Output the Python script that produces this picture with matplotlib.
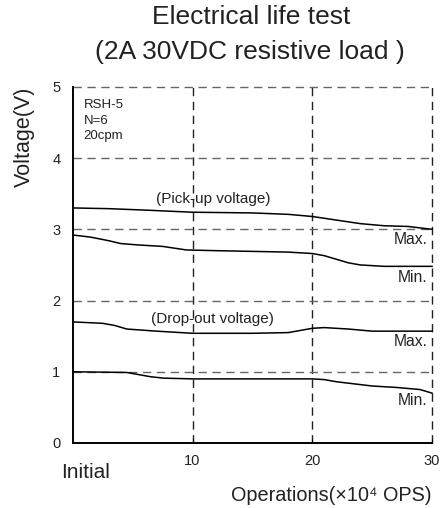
import matplotlib.pyplot as plt

plt.rcParams["font.family"] = ["Liberation Sans", "DejaVu Sans"]

# Pick-up voltage
pu_max_x = [0, 3, 6, 10, 15, 18, 20, 22, 24, 26, 28, 30]
pu_max_y = [3.30, 3.29, 3.27, 3.24, 3.23, 3.21, 3.18, 3.13, 3.08, 3.05, 3.04, 3.00]
pu_min_x = [0, 1.5, 3, 4, 5.5, 7.5, 9.5, 12, 15, 18, 20, 21, 22, 23, 24, 26, 30]
pu_min_y = [2.92, 2.89, 2.84, 2.80, 2.78, 2.76, 2.71, 2.70, 2.69, 2.68, 2.66, 2.63, 2.58, 2.53, 2.50, 2.48, 2.48]

# Drop-out voltage
do_max_x = [0, 2.5, 3.5, 4.5, 7, 10, 15, 18, 19, 20, 21, 23, 25, 30]
do_max_y = [1.70, 1.68, 1.65, 1.60, 1.57, 1.54, 1.54, 1.55, 1.58, 1.61, 1.62, 1.60, 1.57, 1.57]
do_min_x = [0, 4.5, 5.5, 6.5, 7.6, 10, 15, 20, 21, 22, 23, 25, 27, 29, 30]
do_min_y = [1.00, 0.99, 0.96, 0.93, 0.91, 0.90, 0.90, 0.90, 0.89, 0.86, 0.84, 0.80, 0.78, 0.75, 0.70]

x_ticks = [10, 20, 30]
y_ticks = [0, 1, 2, 3, 4, 5]

fig = plt.figure(figsize=(4.44, 5.08), dpi=100)
ax = fig.add_axes([0.164, 0.128, 0.809, 0.701])

for v in x_ticks:
    ax.plot([v, v], [0, 5], color="#222222", lw=1.0, dashes=(6, 4), clip_on=False, zorder=1)
for v in y_ticks[1:]:
    ax.plot([0, 30], [v, v], color="#666666", lw=1.0, dashes=(6, 4), clip_on=False, zorder=1)

for xs, ys in [(pu_max_x, pu_max_y), (pu_min_x, pu_min_y), (do_max_x, do_max_y), (do_min_x, do_min_y)]:
    ax.plot(xs, ys, color="black", lw=1.1, zorder=3, clip_on=False)

ax.set_xlim(0, 30)
ax.set_ylim(0, 5)
ax.spines["top"].set_visible(False)
ax.spines["right"].set_visible(False)
ax.spines["left"].set_linewidth(1.4)
ax.spines["bottom"].set_linewidth(1.4)

ax.set_xticks(x_ticks)
ax.set_xticklabels([str(v) for v in x_ticks], fontsize=10.5, color="#222222")
ax.set_yticks(y_ticks)
ax.set_yticklabels([str(v) for v in y_ticks], fontsize=10.5, color="#222222")
ax.tick_params(axis="x", direction="in", length=3, pad=8)
ax.tick_params(axis="y", length=0, pad=9)

ax.text(1.1, -0.41, "Initial", fontsize=15, ha="center", va="center", color="#222222")
ax.set_xlabel("Operations(×10⁴ OPS)", fontsize=14.3, color="#222222", loc="right", labelpad=13)
ax.set_ylabel("Voltage(V)", fontsize=15.5, color="#222222", loc="top", labelpad=12)

ax.text(0.9, 4.83, "RSH-5\nN=6\n20cpm", fontsize=9.5, va="top", ha="left", linespacing=1.4, color="#222222")
ax.text(11.7, 3.42, "(Pick-up voltage)", fontsize=11, ha="center", va="center", color="#222222")
ax.text(11.7, 1.74, "(Drop-out voltage)", fontsize=11, ha="center", va="center", color="#222222")
ax.text(29.6, 2.86, "Max.", fontsize=11.3, ha="right", va="center", color="#222222")
ax.text(29.6, 2.33, "Min.", fontsize=11.3, ha="right", va="center", color="#222222")
ax.text(29.6, 1.43, "Max.", fontsize=11.3, ha="right", va="center", color="#222222")
ax.text(29.6, 0.60, "Min.", fontsize=11.3, ha="right", va="center", color="#222222")

fig.text(0.566, 0.966, "Electrical life test", fontsize=19, ha="center", va="center", color="#222222")
fig.text(0.562, 0.897, "(2A 30VDC resistive load )", fontsize=19, ha="center", va="center", color="#222222")

fig.savefig("out.png", dpi=100)
